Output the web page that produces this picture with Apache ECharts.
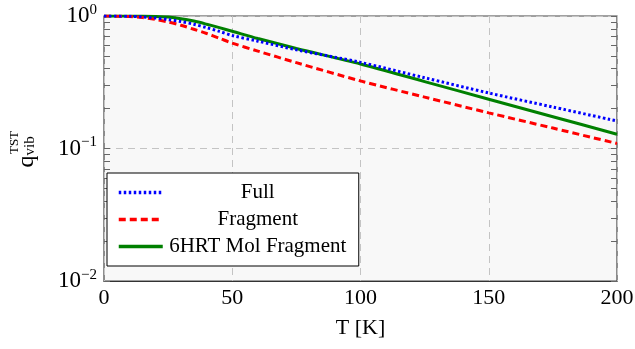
<!DOCTYPE html>
<html>
<head>
<meta charset="utf-8">
<script src="https://cdn.jsdelivr.net/npm/echarts@6/dist/echarts.min.js"></script>
<style>html,body{margin:0;padding:0;background:#fff}#c{width:635px;height:349px}</style>
</head>
<body>
<div id="c"></div>
<script>
// ---- data ----
const T = [0, 10, 15, 20, 25, 30, 35, 40, 45, 50, 60, 75, 100, 125, 150, 175, 200];
const qFull = [1.0, 0.9954, 0.9840, 0.9660, 0.9397, 0.9078, 0.8670, 0.8166, 0.7656, 0.7129, 0.6457, 0.5559, 0.4467, 0.3420, 0.2624, 0.2056, 0.1614];
const qFragment = [1.0, 0.9908, 0.9727, 0.9419, 0.9016, 0.8511, 0.7943, 0.7379, 0.6792, 0.6237, 0.5433, 0.4446, 0.3236, 0.2443, 0.1858, 0.1426, 0.1091];
const qMol = [1.0, 1.0, 0.9988, 0.9931, 0.9817, 0.9550, 0.9162, 0.8670, 0.8166, 0.7674, 0.6761, 0.5689, 0.4345, 0.3199, 0.2355, 0.1738, 0.1282];
const seriesNames = ['Full', 'Fragment', '6HRT Mol Fragment'];
const yMajor = [0.01, 0.1, 1];
const yMinor = [0.01,0.02,0.03,0.04,0.05,0.06,0.07,0.08,0.09,0.1,0.2,0.3,0.4,0.5,0.6,0.7,0.8,0.9,1];

const FONT = 'Liberation Serif';
const pairs = (ys) => T.map((t, i) => [t, ys[i]]);
const lineStyles = [
  {color: '#0000ff', width: 3, type: [2.5, 2.5]},
  {color: '#ff0000', width: 3, type: [7, 4]},
  {color: '#008000', width: 3, type: 'solid'}
];

const chart = echarts.init(document.getElementById('c'), null, {renderer: 'canvas'});
const expLabel = (v) => {
  const e = Math.round(Math.log10(v));
  return '{b|10}{s|' + (e < 0 ? '\u2212' + (-e) : e) + '}';
};
const yLabelRich = {
  b: {fontFamily: FONT, fontSize: 23, color: '#000', lineHeight: 22},
  s: {fontFamily: FONT, fontSize: 15, color: '#000', lineHeight: 22, padding: [0, 0, 12, 0]}
};

chart.setOption({
  animation: false,
  backgroundColor: '#fff',
  textStyle: {fontFamily: FONT},
  grid: {left: 104, right: 18, top: 16, bottom: 68, show: true, containLabel: false, outerBoundsMode: 'none',
         backgroundColor: '#f8f8f8', borderColor: '#444', borderWidth: 1.2},
  legend: {
    orient: 'vertical', left: 107, top: 173,
    padding: [9, 11, 9, 10], itemGap: 6, itemWidth: 44, itemHeight: 22,
    backgroundColor: '#fff', borderColor: '#000', borderWidth: 1, borderRadius: 0,
    itemStyle: {opacity: 0},
    data: seriesNames.map((n, i) => ({name: n, lineStyle: Object.assign({}, lineStyles[i], {width: 3.5})})),
    formatter: (n) => '{a|' + n + '}',
    textStyle: {rich: {a: {fontFamily: FONT, fontSize: 21, color: '#000', width: 180, align: 'center', lineHeight: 22}}}
  },
  xAxis: {
    type: 'value', min: 0, max: 200, interval: 50,
    name: 'T [K]', nameLocation: 'middle', nameGap: 36,
    nameTextStyle: {fontFamily: FONT, fontSize: 22, color: '#000'},
    axisLine: {show: true, lineStyle: {color: '#333', width: 1.2}},
    axisTick: {show: false},
    axisLabel: {fontFamily: FONT, fontSize: 22, color: '#000', margin: 6},
    splitLine: {show: true, lineStyle: {color: '#c4c4c4', type: [7, 5], width: 1}}
  },
  yAxis: [
    {
      type: 'log', logBase: 10, min: 0.01, max: 1,
      name: '{g| }{sup|TST}\n{q|q}{sub|vib}', nameLocation: 'middle', nameGap: 66, nameRotate: 90,
      nameTextStyle: {rich: {
        g: {fontFamily: FONT, fontSize: 13, width: 12, lineHeight: 2},
        sup: {fontFamily: FONT, fontSize: 13, color: '#000', lineHeight: 2, width: 26, align: 'left'},
        q: {fontFamily: FONT, fontSize: 24, color: '#000', lineHeight: 18, width: 12, align: 'left'},
        sub: {fontFamily: FONT, fontSize: 15, color: '#000', lineHeight: 22, width: 26, align: 'left', verticalAlign: 'bottom'}
      }},
      axisLine: {show: false},
      axisTick: {show: true, inside: true, length: 6, customValues: yMinor, lineStyle: {color: '#666', width: 1}},
      axisLabel: {customValues: yMajor, margin: 7, formatter: expLabel, rich: yLabelRich},
      splitLine: {show: false}
    },
    {
      type: 'log', logBase: 10, min: 0.01, max: 1, position: 'right',
      axisLine: {show: false},
      axisTick: {show: true, inside: true, length: 6, customValues: yMinor, lineStyle: {color: '#666', width: 1}},
      axisLabel: {show: false},
      splitLine: {show: false}
    },
    {
      type: 'log', logBase: 10, min: 0.01, max: 1, position: 'left',
      axisLine: {show: false}, axisTick: {show: false}, axisLabel: {show: false},
      splitLine: {show: true, lineStyle: {color: '#c4c4c4', type: [7, 5], width: 1}}
    }
  ],
  series: seriesNames.map((n, i) => ({
    name: n, type: 'line', data: pairs([qFull, qFragment, qMol][i]), yAxisIndex: 0,
    symbol: 'none', smooth: 0.3, lineStyle: lineStyles[i], itemStyle: {color: lineStyles[i].color}, z: 4 - i
  }))
});
</script>
</body>
</html>
